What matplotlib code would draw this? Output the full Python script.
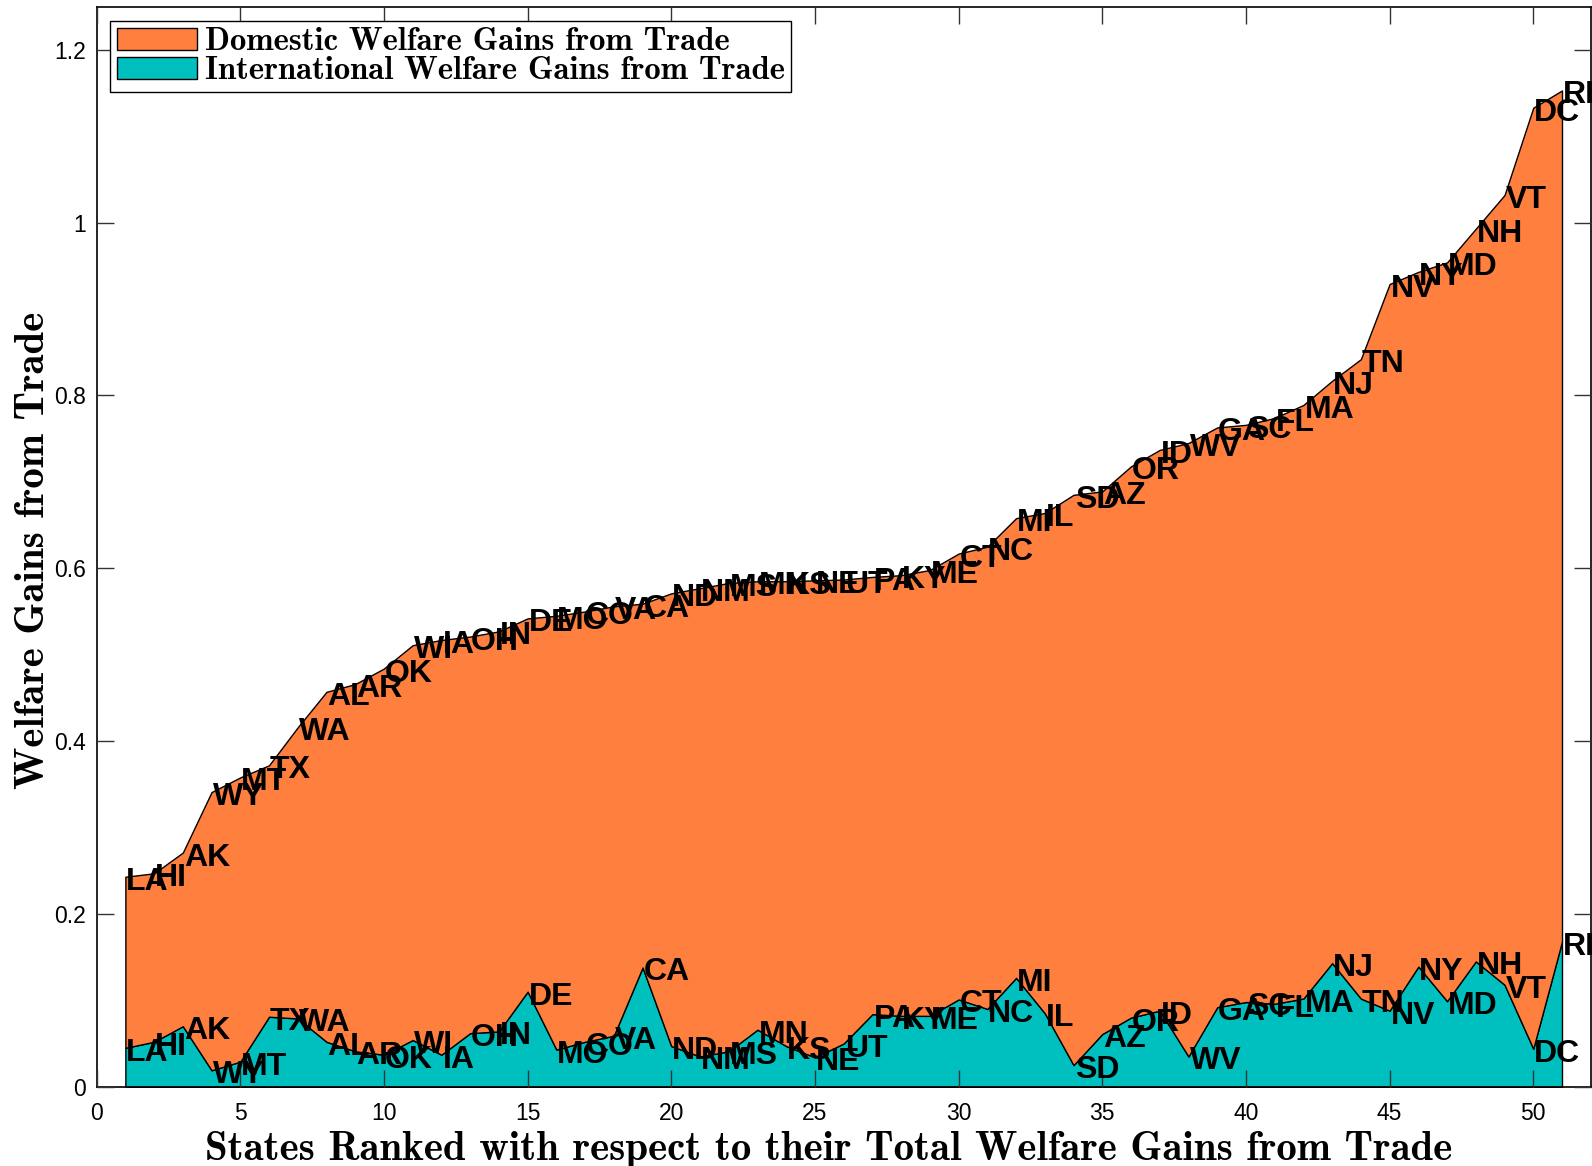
import numpy as np
import matplotlib
matplotlib.use("Agg")
import matplotlib.pyplot as plt
from matplotlib.patches import Patch
from matplotlib.transforms import offset_copy

# states ranked by total welfare gains from trade
states = ["LA", "HI", "AK", "WY", "MT", "TX", "WA", "AL", "AR", "OK",
          "WI", "IA", "OH", "IN", "DE", "MO", "CO", "VA", "CA", "ND",
          "NM", "MS", "MN", "KS", "NE", "UT", "PA", "KY", "ME", "CT",
          "NC", "MI", "IL", "SD", "AZ", "OR", "ID", "WV", "GA", "SC",
          "FL", "MA", "NJ", "TN", "NV", "NY", "MD", "NH", "VT", "DC", "RI"]

# total (domestic + international) gains, top of the stacked area
total_gains = [0.243, 0.247, 0.271, 0.341, 0.358, 0.372, 0.416, 0.457, 0.466, 0.484,
               0.511, 0.517, 0.521, 0.527, 0.542, 0.545, 0.550, 0.556, 0.559, 0.571,
               0.577, 0.583, 0.585, 0.585, 0.586, 0.587, 0.590, 0.592, 0.598, 0.617,
               0.625, 0.658, 0.664, 0.685, 0.689, 0.718, 0.737, 0.745, 0.763, 0.766,
               0.774, 0.789, 0.817, 0.842, 0.929, 0.943, 0.954, 0.993, 1.032, 1.133, 1.153]

# international gains, bottom layer
intl_gains = [0.045, 0.052, 0.070, 0.019, 0.029, 0.081, 0.079, 0.052, 0.041, 0.037,
              0.054, 0.037, 0.062, 0.064, 0.110, 0.043, 0.052, 0.059, 0.138, 0.047,
              0.035, 0.041, 0.066, 0.047, 0.034, 0.050, 0.084, 0.082, 0.082, 0.101,
              0.090, 0.126, 0.085, 0.025, 0.061, 0.080, 0.088, 0.035, 0.092, 0.098,
              0.096, 0.102, 0.143, 0.102, 0.088, 0.139, 0.099, 0.145, 0.118, 0.044, 0.168]

xticks = [0, 5, 10, 15, 20, 25, 30, 35, 40, 45, 50]
yticks = [0, 0.2, 0.4, 0.6, 0.8, 1.0, 1.2]
ytick_labels = ["0", "0.2", "0.4", "0.6", "0.8", "1", "1.2"]

ORANGE = "#FF7F3F"
TEAL = "#00BFBF"

rank = np.arange(1, len(states) + 1)

fig = plt.figure(figsize=(15.92, 11.66), dpi=100)
ax = fig.add_axes([0.0607, 0.068, 0.9385, 0.9263])

ax.fill_between(rank, 0, intl_gains, facecolor=TEAL, edgecolor="black", linewidth=1.0, zorder=1)
ax.fill_between(rank, intl_gains, total_gains, facecolor=ORANGE, edgecolor="black", linewidth=1.0, zorder=1)

# state names sit a touch below the vertex, like matlab's 'middle' alignment
lab_tr = offset_copy(ax.transData, fig=fig, x=1, y=-5, units="dots")
lab_kw = dict(ha="left", va="center", fontsize=23, fontweight="bold",
              family="Liberation Sans", zorder=5, clip_on=False, transform=lab_tr)
for x, s, t, i in zip(rank, states, total_gains, intl_gains):
    ax.text(x, t, s, **lab_kw)
    ax.text(x, i, s, **lab_kw)

ax.set_xlim(0, 52)
ax.set_ylim(0, 1.25)
ax.set_xticks(xticks)
ax.set_yticks(yticks)
ax.set_yticklabels(ytick_labels)
ax.set_axisbelow(False)
ax.tick_params(direction="in", length=12, width=1, color="#333333",
               top=True, right=True, labelsize=16.5, pad=8)
ax.tick_params(axis="x", pad=11)
for lbl in ax.get_xticklabels() + ax.get_yticklabels():
    lbl.set_family("Liberation Sans")
for sp in ax.spines.values():
    sp.set_linewidth(1.2)

ax.set_xlabel("States Ranked with respect to their Total Welfare Gains from Trade",
              family="cmb10", fontsize=29.5, labelpad=4)
ax.xaxis.label.set_x(0.49)
ax.set_ylabel("Welfare Gains from Trade", family="cmb10", fontsize=29.5, labelpad=1)
ax.yaxis.label.set_y(0.497)

handles = [Patch(facecolor=ORANGE, edgecolor="black", linewidth=1.0),
           Patch(facecolor=TEAL, edgecolor="black", linewidth=1.0)]
leg = ax.legend(handles, ["Domestic Welfare Gains from Trade",
                          "International Welfare Gains from Trade"],
                loc="upper left", bbox_to_anchor=(0.009, 0.987), borderaxespad=0,
                fancybox=False, framealpha=1, edgecolor="black",
                prop={"family": "cmb10", "size": 23.5},
                handlelength=2.45, handleheight=0.66, handletextpad=0.25,
                labelspacing=0.0, borderpad=0.2)
leg.get_frame().set_linewidth(1.0)
leg.set_zorder(10)

fig.savefig("out.png", dpi=100)
